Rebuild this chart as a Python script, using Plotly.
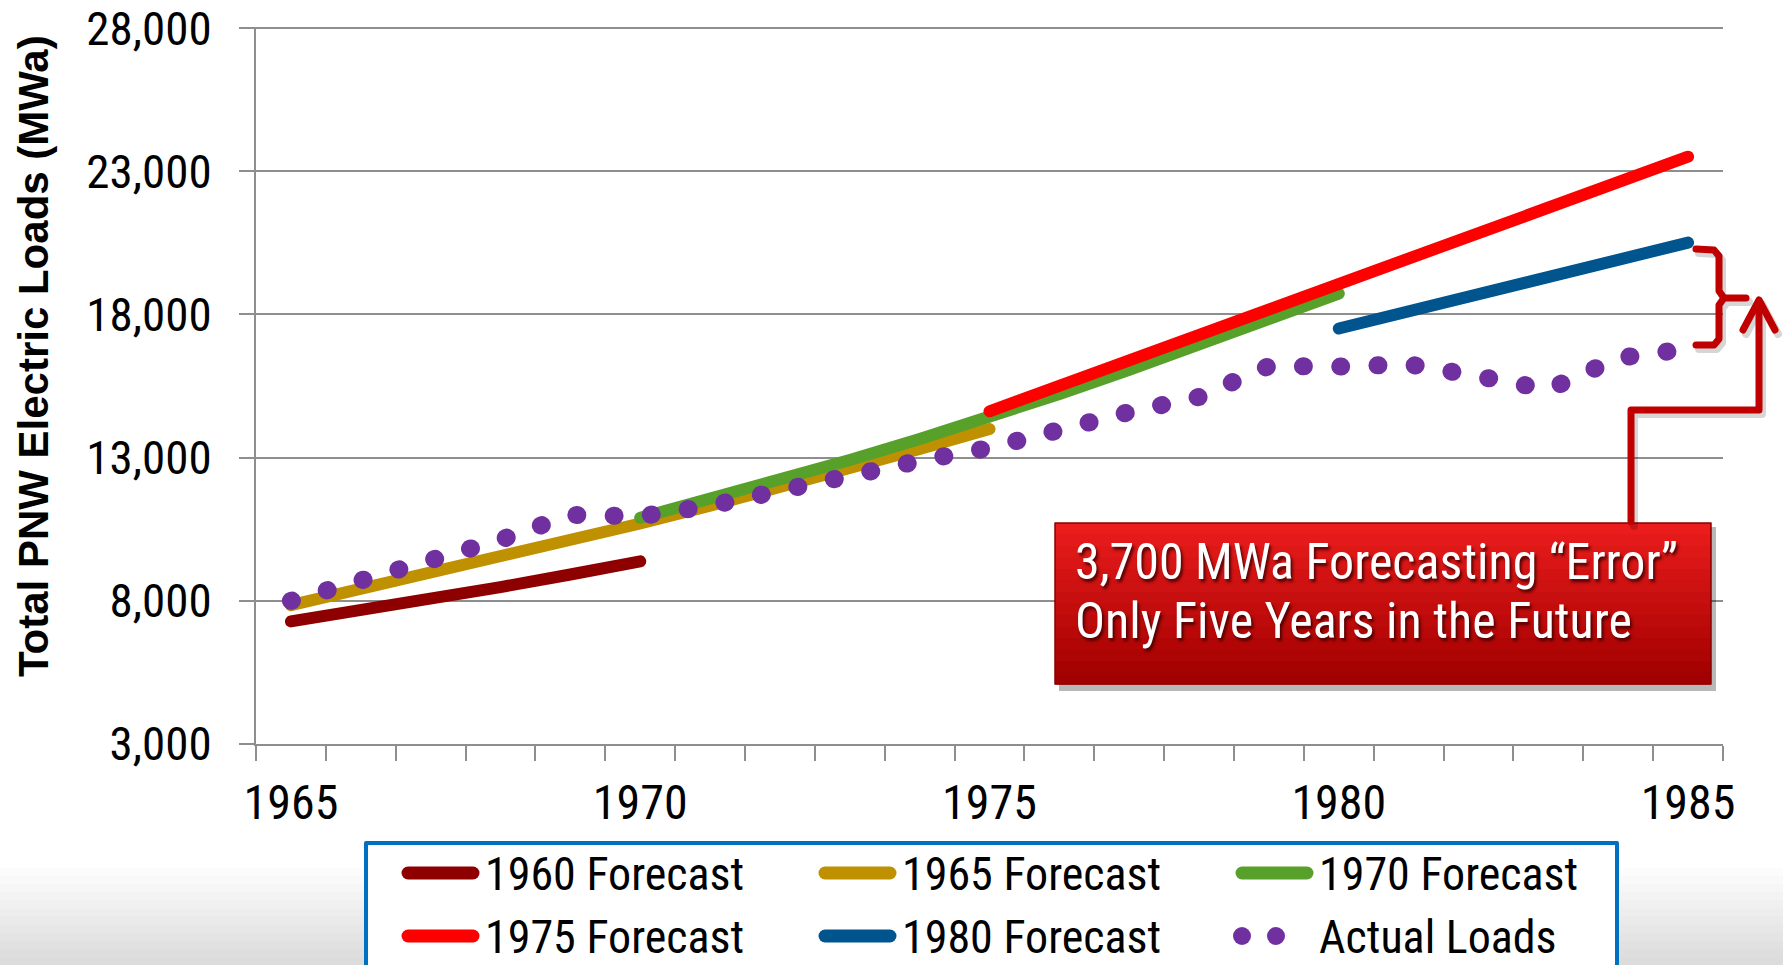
import plotly.graph_objects as go

# forecast vintages and actual PNW loads (MWa)
fc1960_years = list(range(1965, 1971))
fc1960 = [7280, 7660, 8060, 8480, 8920, 9380]

fc1965_years = list(range(1965, 1976))
fc1965 = [7850, 8400, 8950, 9520, 10100, 10700, 11320, 11960, 12620, 13300, 14000]

fc1970_years = list(range(1970, 1981))
fc1970 = [10900, 11550, 12220, 12920, 13650, 14400, 15220, 16070, 16940, 17830, 18730]

fc1975_years = list(range(1975, 1986))
fc1975 = [14620, 15500, 16380, 17270, 18150, 19030, 19930, 20820, 21720, 22610, 23510]

fc1980_years = list(range(1980, 1986))
fc1980 = [17510, 18110, 18710, 19310, 19910, 20510]

actual_years = list(range(1965, 1986))
actual = [8000, 8740, 9340, 10130, 11000, 10950, 11320, 11880, 12420, 12890, 13340,
          14030, 14590, 15120, 16200, 16180, 16260, 15840, 15380, 16480, 16800]

x_ticks = [1965, 1970, 1975, 1980, 1985]
y_ticks = [3000, 8000, 13000, 18000, 23000, 28000]

W, H = 1783, 965
L, R, T, B = 256, 1723, 27, 744
FONT = "Liberation Sans Narrow, Arial Narrow, Roboto Condensed, Liberation Sans, sans-serif"
GRID = "#8E8E8E"
DARK_RED = "#C00000"


def px(x):
    return (x - L) / (R - L)


def py(y):
    return (B - y) / (B - T)


def path(points, dx=0, dy=0):
    return "M " + " L ".join(f"{px(a + dx):.5f},{py(b + dy):.5f}" for a, b in points)


series = [
    ("1960 Forecast", fc1960_years, fc1960, "#8E0000"),
    ("1965 Forecast", fc1965_years, fc1965, "#BF9000"),
    ("1970 Forecast", fc1970_years, fc1970, "#57A12B"),
    ("1975 Forecast", fc1975_years, fc1975, "#FF0000"),
    ("1980 Forecast", fc1980_years, fc1980, "#00558F"),
]
ACTUAL_COLOR = "#7030A0"

fig = go.Figure()
for name, xs, ys, col in series:
    fig.add_trace(go.Scatter(x=xs, y=ys, name=name, mode="lines",
        line=dict(color=col, width=12)))
fig.add_trace(go.Scatter(x=actual_years, y=actual, name="Actual Loads", mode="lines",
    line=dict(color=ACTUAL_COLOR, width=18, dash="1px,36.3px")))

shapes = []
annotations = []

# slide background fading to grey at the bottom
n = 12
for i in range(n):
    y0 = 868 + i * (H - 868) / n
    y1 = 868 + (i + 1) * (H - 868) / n
    g = int(255 - (i + 1) * 35 / n)
    shapes.append(dict(type="rect", xref="paper", yref="paper", layer="below",
        x0=px(0), x1=px(W), y0=py(y1 + 1), y1=py(y0),
        fillcolor=f"rgb({g},{g},{g})", line=dict(width=0)))

# callout box: shadow + vertical red gradient
bx0, bx1, by0, by1 = 1055, 1711, 523, 684
shapes.append(dict(type="rect", xref="paper", yref="paper",
    x0=px(bx0 + 4), x1=px(bx1 + 5), y0=py(by1 + 7), y1=py(by0 + 4),
    fillcolor="rgba(0,0,0,0.28)", line=dict(width=0)))
m = 14
for i in range(m):
    t = i / (m - 1)
    r = int(234 - 72 * t)
    gb = int(28 - 28 * t)
    y0 = by0 + i * (by1 - by0) / m
    y1 = by0 + (i + 1) * (by1 - by0) / m
    shapes.append(dict(type="rect", xref="paper", yref="paper",
        x0=px(bx0), x1=px(bx1), y0=py(y1 + 0.5), y1=py(y0),
        fillcolor=f"rgb({r},{gb},{gb})", line=dict(width=0)))
shapes.append(dict(type="rect", xref="paper", yref="paper",
    x0=px(bx0), x1=px(bx1), y0=py(by1), y1=py(by0),
    line=dict(color="#8A0000", width=1.5)))

# bracket between 1980 forecast and actual in 1985, elbow arrow from the callout
bracket = [(1696, 249), (1714, 250), (1719, 256), (1719, 291), (1724, 298),
           (1746, 298), (1724, 298), (1719, 305), (1719, 339), (1714, 345), (1696, 345)]
elbow = [(1631, 522), (1631, 410), (1759, 410), (1759, 304)]
head = [(1743, 330), (1759, 300), (1775, 330)]
for pts in (bracket, elbow, head):
    shapes.append(dict(type="path", xref="paper", yref="paper", path=path(pts, 3, 4),
        line=dict(color="rgba(0,0,0,0.16)", width=8)))
for pts in (bracket, elbow, head):
    shapes.append(dict(type="path", xref="paper", yref="paper", path=path(pts),
        line=dict(color=DARK_RED, width=7)))

# legend box (drawn by hand so the swatches match the long rounded strokes)
shapes.append(dict(type="rect", xref="paper", yref="paper",
    x0=px(366), x1=px(1617), y0=py(1000), y1=py(843),
    fillcolor="#FFFFFF", line=dict(color="#0070C0", width=4)))
col_x = [402, 819, 1236]
row_y = [873, 936]
legend_items = [(name, col) for name, _, _, col in series] + [("Actual Loads", ACTUAL_COLOR)]
for k, (name, col) in enumerate(legend_items):
    cx, cy = col_x[k % 3], row_y[k // 3]
    if name == "Actual Loads":
        for dx in (6, 40):
            shapes.append(dict(type="circle", xref="paper", yref="paper",
                x0=px(cx + dx - 9), x1=px(cx + dx + 9), y0=py(cy + 9), y1=py(cy - 9),
                fillcolor=col, line=dict(width=0)))
    else:
        shapes.append(dict(type="line", xref="paper", yref="paper",
            x0=px(cx + 6), x1=px(cx + 71), y0=py(cy), y1=py(cy),
            line=dict(color=col, width=13)))
    annotations.append(dict(xref="paper", yref="paper", x=px(cx + 81), y=py(cy + 1),
        xanchor="left", yanchor="middle", showarrow=False, text=name,
        font=dict(family=FONT, size=46, color="#000000")))

annotations += [
    dict(xref="paper", yref="paper", x=px(33), y=py(356), text="Total PNW Electric Loads (MWa)",
         textangle=-90, showarrow=False, xanchor="center", yanchor="middle",
         font=dict(family="Liberation Sans, Arial, sans-serif", size=42, color="#000000",
                   weight="bold")),
    dict(xref="paper", yref="paper", x=px(1073), y=py(562), xanchor="left", yanchor="middle",
         showarrow=False, text="3,700 MWa Forecasting \u201cError\u201d",
         font=dict(family=FONT, size=50, color="#FFFFFF", shadow="2px 3px 3px rgba(60,0,0,0.85)")),
    dict(xref="paper", yref="paper", x=px(1073), y=py(621), xanchor="left", yanchor="middle",
         showarrow=False, text="Only Five Years in the Future",
         font=dict(family=FONT, size=50, color="#FFFFFF", shadow="2px 3px 3px rgba(60,0,0,0.85)")),
]

fig.update_layout(
    width=W, height=H,
    margin=dict(l=L, r=W - R, t=T, b=H - B, autoexpand=False),
    paper_bgcolor="#FFFFFF", plot_bgcolor="rgba(0,0,0,0)",
    font=dict(family=FONT, size=48, color="#000000"),
    shapes=shapes, annotations=annotations,
    showlegend=False,
    xaxis=dict(range=[1964.5, 1985.5], tickvals=x_ticks, ticks="", showgrid=False,
        showline=True, linecolor=GRID, linewidth=2, zeroline=False,
        ticklabelstandoff=15, tickfont=dict(family=FONT, size=48),
        minor=dict(tick0=1964.5, dtick=1, ticks="outside", ticklen=15,
                   tickcolor=GRID, tickwidth=2, showgrid=False)),
    yaxis=dict(range=[3000, 28040], tickvals=y_ticks, tickformat=",d",
        showgrid=True, gridcolor=GRID, gridwidth=2,
        showline=True, linecolor=GRID, linewidth=2, zeroline=False,
        ticks="outside", ticklen=15, tickcolor=GRID, tickwidth=2,
        ticklabelstandoff=18, ticklabeloverflow="allow", tickfont=dict(family=FONT, size=47)),
)

# round stroke ends like the original slide, and drop the page margin
post = ("document.body.style.margin='0';"
        "document.querySelectorAll('path.js-line, .shapelayer path').forEach(function(p){"
        "p.style.strokeLinecap='round';p.style.strokeLinejoin='round';});")
fig.write_html("out.html", post_script=post, config={"displayModeBar": False})
